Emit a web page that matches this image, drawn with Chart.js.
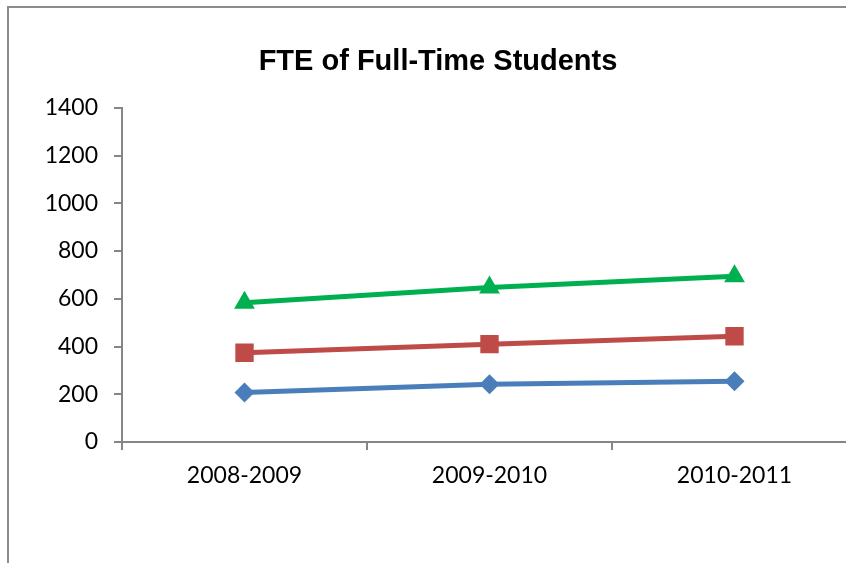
<!DOCTYPE html>
<html lang="en">

<head>
    <meta charset="UTF-8">
    <script src="https://cdn.jsdelivr.net/npm/chart.js"></script>
    <title>FTE of Full-Time Students</title>
</head>

<body>
    <div class="frame"></div>
    <div class="chart-wrapper">
        <canvas id="myChart" width="870" height="563"></canvas>
    </div>
    <style>
        body {
            background-color: #fff;
            margin: 0;
            width: 846px;
            height: 563px;
            overflow: hidden;
            position: relative;
        }

        .frame {
            position: absolute;
            left: 7px;
            top: 6px;
            width: 900px;
            height: 600px;
            border-left: 2px solid #8c8c8c;
            border-top: 2px solid #8c8c8c;
        }

        .chart-wrapper {
            position: absolute;
            left: 0;
            top: 0;
            width: 870px;
            height: 563px;
        }
    </style>
    <script>
        const years = ["2008-2009", "2009-2010", "2010-2011"];
        const seriesBlue = [207, 242, 254];
        const seriesRed = [374, 410, 443];
        const seriesGreen = [583, 647, 694];

        const axisGray = "#868686";
        const ctx = document.getElementById("myChart");

        Chart.defaults.font.family = "Lato";
        Chart.defaults.color = "#000";

        new Chart(ctx, {
            type: "line",
            data: {
                labels: years,
                datasets: [
                    {
                        label: "Series 1", data: seriesBlue,
                        borderColor: "#4a7ebb", backgroundColor: "#4a7ebb",
                        pointStyle: "rectRot", pointRadius: 10, pointHoverRadius: 10
                    },
                    {
                        label: "Series 2", data: seriesRed,
                        borderColor: "#be4b48", backgroundColor: "#be4b48",
                        pointStyle: "rect", pointRadius: 13, pointHoverRadius: 13
                    },
                    {
                        label: "Series 3", data: seriesGreen,
                        borderColor: "#00b050", backgroundColor: "#00b050",
                        pointStyle: "triangle", pointRadius: 12, pointHoverRadius: 12
                    }
                ]
            },
            options: {
                responsive: false,
                animation: false,
                elements: {
                    line: { borderWidth: 5, tension: 0 },
                    point: { borderWidth: 0 }
                },
                layout: {
                    padding: { left: 19, right: 13, top: 0, bottom: 0 }
                },
                scales: {
                    y: {
                        min: 0,
                        max: 1400,
                        afterFit: (scale) => { scale.width = 103; },
                        ticks: {
                            stepSize: 200,
                            padding: 16,
                            font: { size: 23 },
                            callback: (value) => String(value)
                        },
                        grid: {
                            drawOnChartArea: false,
                            tickLength: 8,
                            color: axisGray,
                            lineWidth: 2
                        },
                        border: { color: axisGray, width: 2 }
                    },
                    x: {
                        offset: true,
                        afterFit: (scale) => { scale.height = 121; },
                        ticks: {
                            padding: 12,
                            maxRotation: 0,
                            font: { size: 23 }
                        },
                        grid: {
                            offset: true,
                            drawOnChartArea: false,
                            tickLength: 8,
                            color: axisGray,
                            lineWidth: 2
                        },
                        border: { color: axisGray, width: 2 }
                    }
                },
                plugins: {
                    legend: { display: false },
                    tooltip: { enabled: false },
                    title: {
                        display: true,
                        text: "FTE of Full-Time Students",
                        color: "#000",
                        font: { family: "Liberation Sans", size: 29, weight: "bold", lineHeight: 1.2 },
                        padding: { top: 45, bottom: 28 }
                    }
                }
            }
        });
    </script>
</body>

</html>
